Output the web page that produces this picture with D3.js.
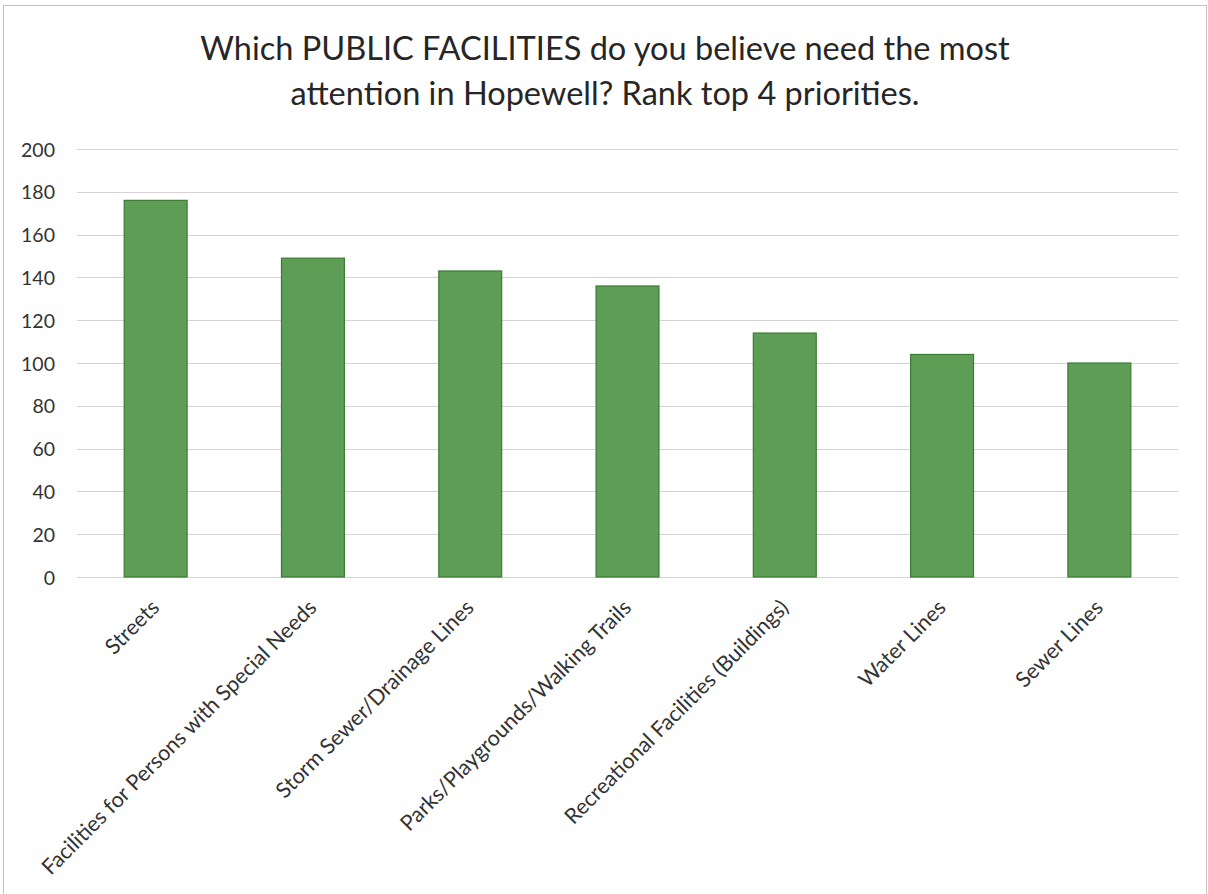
<!DOCTYPE html>
<html>
<head>
<meta charset="utf-8">
<script src="https://cdn.jsdelivr.net/npm/d3@7"></script>
<style>
  html, body { margin: 0; padding: 0; background: #fff; }
  svg { display: block; }
</style>
</head>
<body>
<svg id="chart" width="1208" height="894"></svg>
<script>
const titleLines = ["Which PUBLIC FACILITIES do you believe need the most", "attention in Hopewell? Rank top 4 priorities."];
const categories = ["Streets", "Facilities for Persons with Special Needs", "Storm Sewer/Drainage Lines", "Parks/Playgrounds/Walking Trails", "Recreational Facilities (Buildings)", "Water Lines", "Sewer Lines"];
const values = [176, 149, 143, 136, 114, 104, 100];
const yTicks = [0, 20, 40, 60, 80, 100, 120, 140, 160, 180, 200];

const svg = d3.select("#chart");
const font = "Lato, 'Open Sans', sans-serif";
const textColor = "#333333";

// frame
svg.append("rect").attr("x", 3.5).attr("y", 5.5).attr("width", 1203).attr("height", 900)
  .attr("fill", "none").attr("stroke", "#c4c4c4").attr("stroke-width", 1);

const plotL = 77, plotR = 1178;
const x = d3.scaleBand().domain(categories).range([plotL, plotR]).paddingInner(0.6).paddingOuter(0.3);
const y = d3.scaleLinear().domain([0, 200]).range([577, 149]);

// gridlines
svg.append("g").selectAll("line").data(yTicks).join("line")
  .attr("x1", plotL).attr("x2", plotR)
  .attr("y1", d => Math.round(y(d)) + 0.5).attr("y2", d => Math.round(y(d)) + 0.5)
  .attr("stroke", "#d4d4d4").attr("stroke-width", 1);

// y axis labels
const yAxis = d3.axisLeft(y).tickValues(yTicks).tickSize(0).tickPadding(0);
const gy = svg.append("g").attr("transform", "translate(55,0)").call(yAxis);
gy.select(".domain").remove();
gy.selectAll("text").attr("font-family", font).attr("font-size", 19.5).attr("fill", textColor).attr("dy", "0.36em");

// bars
svg.append("g").selectAll("rect").data(values).join("rect")
  .attr("x", (d, i) => x(categories[i]))
  .attr("width", x.bandwidth())
  .attr("y", d => y(d))
  .attr("height", d => y(0) - y(d))
  .attr("fill", "#5e9d56").attr("stroke", "#3c7b34").attr("stroke-width", 1.2);

// x axis labels
const xAxis = d3.axisBottom(x).tickSize(0).tickPadding(0);
const gx = svg.append("g").attr("transform", "translate(0,577)").call(xAxis);
gx.select(".domain").remove();
const labels = gx.selectAll("text")
  .attr("font-family", font).attr("font-size", 20).attr("fill", textColor)
  .attr("text-anchor", "end")
  .attr("y", 0).attr("dy", 0);
const longest = d3.max(labels.nodes(), n => n.getComputedTextLength());
const labelSize = 20 * 378 / longest;
labels.attr("font-size", labelSize)
  .attr("transform", "translate(5,32) rotate(-45)");

// title
const t = svg.append("text").attr("text-anchor", "middle").attr("font-family", font)
  .attr("font-size", 30).attr("fill", "#262626");
t.selectAll("tspan").data(titleLines).join("tspan")
  .attr("x", 605).attr("y", (d, i) => 60 + i * 45).text(d => d);
const tw = t.select("tspan").node().getComputedTextLength();
t.attr("font-size", 30 * 810 / tw);
</script>
</body>
</html>
